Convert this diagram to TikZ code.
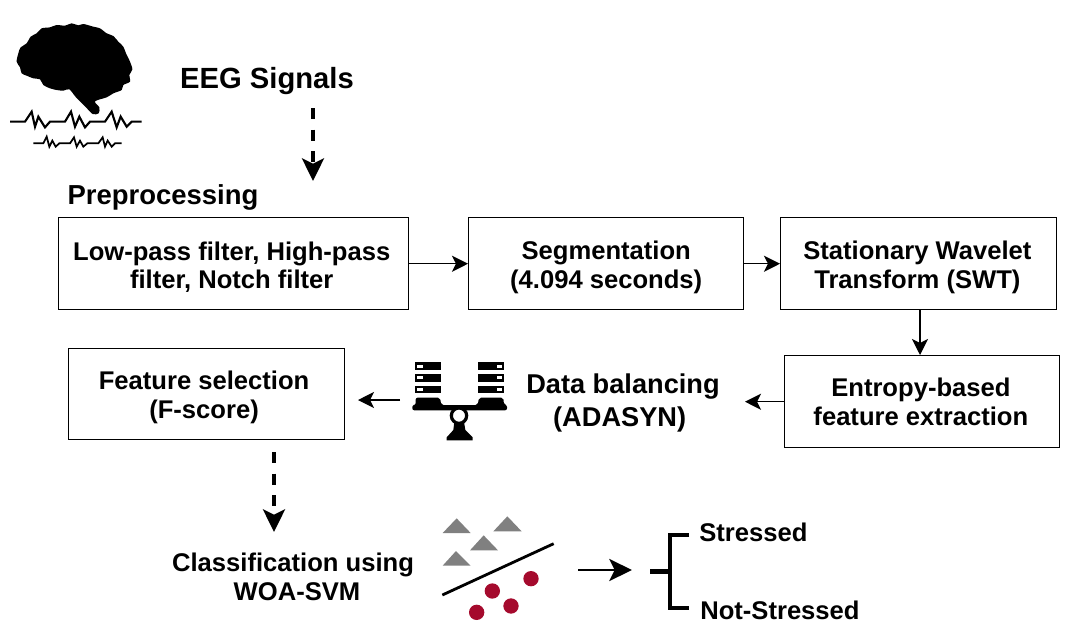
\documentclass[tikz,border=0pt]{standalone}
\usepackage{fontspec}
\setmainfont{Liberation Sans}
\usetikzlibrary{arrows.meta}
\definecolor{dotred}{HTML}{A50A2D}
\definecolor{trigray}{HTML}{808080}
\newcommand{\firstup}{\rule{0pt}{19pt}}
\tikzset{
 x=0.75pt,y=-0.75pt,
 boxnode/.style={draw=black,line width=1.1pt,anchor=north west,inner sep=0pt,align=center,font=\fontsize{19.2}{21.6}\selectfont\bfseries},
 label/.style={inner sep=0pt,align=center,font=\fontsize{19.2}{21.6}\selectfont\bfseries},
 flow/.style={line width=1pt,-{Stealth[length=12pt,width=12pt,inset=3pt]}},
 dashflow/.style={line width=3pt,dash pattern=on 8.2pt off 8pt,-{Stealth[length=17pt,width=16.5pt,inset=4pt]}},
 wave/.style={line width=1.6pt,line join=miter},
 icon/.style={x=0.25pt,y=-0.25pt},
}
\begin{document}
\begin{tikzpicture}
\useasboundingbox (0,0) rectangle (1068,633);
% brain
\begin{scope}[icon,shift={(0,-7.5pt)}]
\fill[black] plot[smooth cycle,tension=0.5] coordinates {(50,155)(55,130)(62,112)(80,100)(92,80)(110,70)(125,55)(150,52)(170,45)(195,47)(215,40)(235,46)(250,42)(280,50)(300,55)(320,70)(340,78)(355,95)(370,110)(378,130)(390,155)(397,178)(388,195)(390,215)(370,225)(365,240)(340,250)(320,262)(285,274)(298,292)(296,310)(278,312)(258,292)(228,262)(208,238)(190,242)(170,240)(150,235)(130,225)(120,208)(100,205)(80,197)(65,190)(60,172)};
\draw[wave] (30,335)--(75,335)--(95,305)--(105,350)--(115,320)--(135,352)--(150,335)--(195,335)--(213,305)--(225,350)--(238,320)--(255,352)--(270,335)--(315,335)--(335,305)--(350,352)--(362,320)--(380,350)--(395,335)--(425,335);
\draw[wave,line width=1.3pt] (100,400)--(130,400)--(140,380)--(148,410)--(157,392)--(167,410)--(178,400)--(210,400)--(222,382)--(230,410)--(240,392)--(250,410)--(262,400)--(295,400)--(308,382)--(315,410)--(323,392)--(335,410)--(345,400)--(365,400);
\end{scope}
% texts
\node[label,font=\fontsize{21.9}{24}\selectfont\bfseries] (eeg) at (267,81) {EEG Signals};
\node[label,font=\fontsize{20.6}{24}\selectfont\bfseries] (prep) at (163,197) {Preprocessing};
% boxes
\node[boxnode,minimum width=350*0.75pt,minimum height=92*0.75pt] (lowpass) at (58,217) {\firstup Low-pass filter, High-pass\hspace*{3pt}\\filter, Notch filter\hspace*{3pt}};
\node[boxnode,minimum width=275*0.75pt,minimum height=92*0.75pt] (seg) at (468,217) {\firstup Segmentation\\(4.094 seconds)};
\node[boxnode,minimum width=276*0.75pt,minimum height=92*0.75pt] (swt) at (780,217) {\firstup Stationary Wavelet\hspace*{2pt}\\Transform (SWT)\hspace*{2pt}};
\node[boxnode,minimum width=275*0.75pt,minimum height=92*0.75pt] (entropy) at (784,355) {Entropy-based\hspace*{2pt}\\feature extraction\hspace*{2pt}};
\node[boxnode,minimum width=276*0.75pt,minimum height=91*0.75pt] (fsel) at (68,348) {\firstup Feature selection\hspace*{4pt}\\(F-score)\hspace*{4pt}};
\node[label,font=\fontsize{20.4}{25}\selectfont\bfseries] (balance) at (623,403) {Data balancing\\(ADASYN)\hspace*{5pt}};
\node[label] (clf) at (293,577) {Classification using\\\hspace*{6pt}WOA-SVM};
\node[label,anchor=west] (stressed) at (699,532) {Stressed};
\node[label,anchor=west] (notstressed) at (700,610) {Not-Stressed};
% balance icon
\coordinate (iconL) at (400,400);
\begin{scope}[icon,shift={(300pt,-262.5pt)}]
\foreach \yy in {37,72,107}{
 \fill (45,\yy) rectangle (122,\yy+23);
 \fill (235,\yy) rectangle (312,\yy+23);
 \fill[white] (52,\yy+7) rectangle (68,\yy+16);
 \fill[white] (290,\yy+7) rectangle (306,\yy+16);
}
\fill[rounded corners=1.5pt] (47,165)--(47,143)--(120,143)--(124,165)--(233,165)--(237,143)--(310,143)--(312,165)--(321,165)--(321,181)--(37,181)--(37,165)--cycle;
\fill (163,215)--(192,215)--(196,240)--(218,262)--(218,271)--(140,271)--(140,262)--(160,240)--cycle;
\fill[white,draw=black,line width=2.4pt] (177,197) circle (23);
\end{scope}
% classifier icon
\begin{scope}[icon,shift={(322.5pt,-378.75pt)}]
\fill[trigray] (38,84)--(80,40)--(122,84)--cycle;
\fill[trigray] (190,79)--(232,34)--(275,79)--cycle;
\fill[trigray] (120,136)--(161,91)--(204,136)--cycle;
\fill[trigray] (38,182)--(78,138)--(122,182)--cycle;
\fill[dotred] (303,221) circle (23);
\fill[dotred] (187,258) circle (23);
\fill[dotred] (243,303) circle (23);
\fill[dotred] (140,322) circle (23);
\draw[line width=2.1pt] (37,270)--(371,116);
\end{scope}
% free ends
\coordinate (eegS) at (313,108);
\coordinate (eegE) at (313,181);
\coordinate (fselS) at (274,452);
\coordinate (fselE) at (274,532);
\coordinate (outS) at (578,570);
\coordinate (outE) at (632,570);
\coordinate (brT) at (689,535);
\coordinate (brB) at (689,608);
\coordinate (brM) at (650,571.5);
\coordinate (brJ) at (670,571.5);
\coordinate (brTL) at (670,535);
\coordinate (brBL) at (670,608);
\coordinate (swtOut) at (920,309);
\coordinate (entIn) at (920,355);
\coordinate (entOutX) at (745,401);
\coordinate (fselIn) at (358,400);
% connectors
\draw[dashflow] (eegS) -- (eegE);
\draw[flow] (lowpass.east) -- (seg.west);
\draw[flow] (seg.east) -- (swt.west);
\draw[flow] (swtOut) -- (entIn);
\draw[flow] (entropy.west) -- (entOutX |- entropy.west);
\draw[flow] (iconL) -- (fselIn);
\draw[dashflow] (fselS) -- (fselE);
\draw[line width=2pt,-{Stealth[length=17pt,width=16.5pt,inset=4pt]}] (outS) -- (outE);
\draw[line width=3.7pt,line join=miter] (brT) -- (brTL) -- (brBL) -- (brB);
\draw[line width=3.7pt] (brM) -- (brJ);
\end{tikzpicture}
\end{document}
